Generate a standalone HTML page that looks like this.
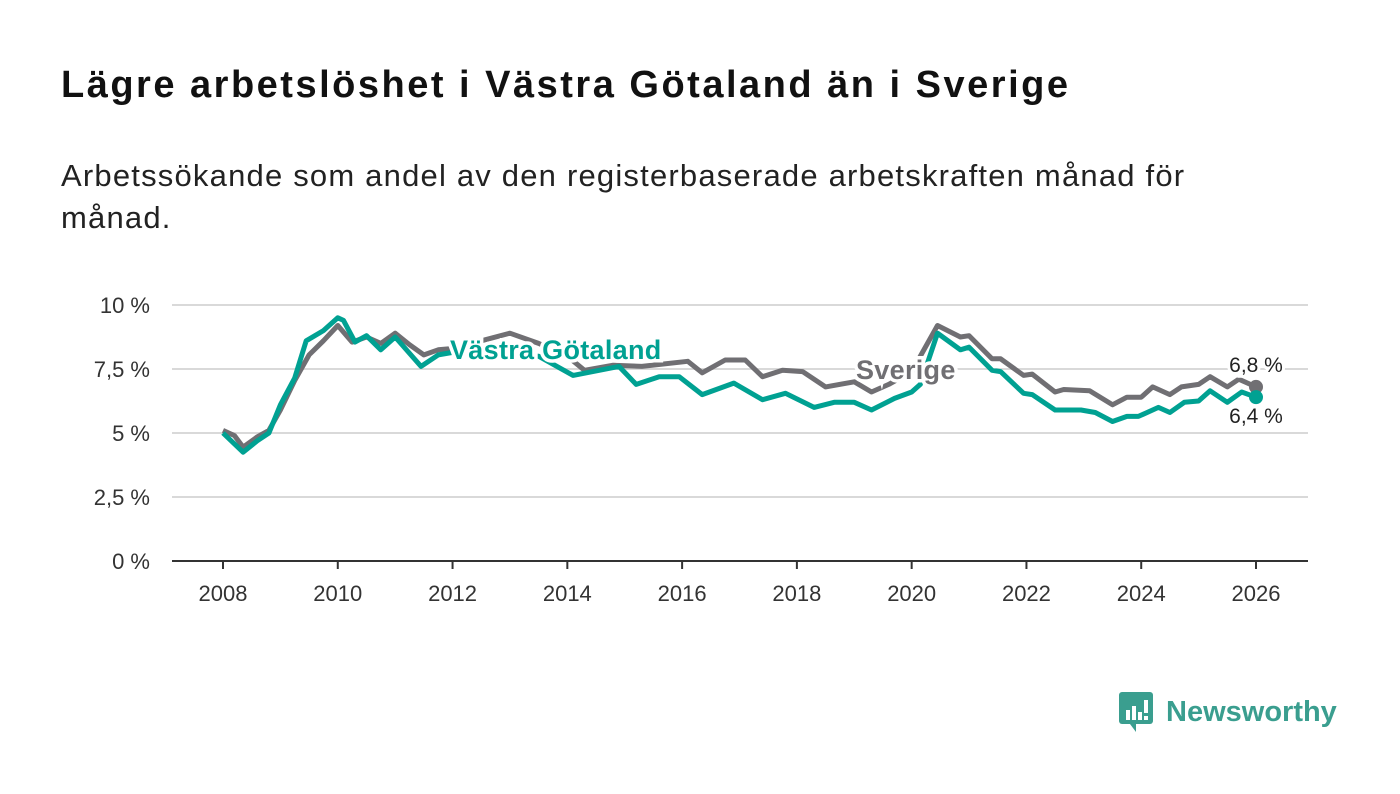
<!DOCTYPE html>
<html><head><meta charset="utf-8"><style>
body{margin:0;width:1400px;height:794px;background:#fff;font-family:"Liberation Sans",sans-serif;overflow:hidden}
h1{position:absolute;left:61px;top:64px;margin:0;font-size:38px;font-weight:bold;color:#111;letter-spacing:2.5px;white-space:nowrap}
p{position:absolute;left:61px;top:155px;margin:0;font-size:31px;line-height:42px;color:#222;width:1180px;letter-spacing:1.2px}
svg{position:absolute;left:0;top:0}
</style></head><body>
<h1>Lägre arbetslöshet i Västra Götaland än i Sverige</h1>
<p>Arbetssökande som andel av den registerbaserade arbetskraften månad för månad.</p>
<svg id="c" width="1400" height="794"></svg>
<script>
const yTicks=[0,2.5,5,7.5,10];
const yTickLabels=["0 %","2,5 %","5 %","7,5 %","10 %"];
const xTicks=[2008,2010,2012,2014,2016,2018,2020,2022,2024,2026];
const seDates=[2008,2008.2,2008.35,2008.6,2008.8,2009,2009.25,2009.5,2009.75,2010,2010.25,2010.5,2010.75,2011,2011.25,2011.5,2011.75,2012,2012.5,2013,2013.5,2014,2014.3,2014.8,2015.3,2016.1,2016.35,2016.75,2017.1,2017.4,2017.75,2018.1,2018.5,2019,2019.3,2019.6,2020,2020.45,2020.85,2021,2021.4,2021.55,2021.95,2022.1,2022.5,2022.65,2023.1,2023.5,2023.75,2024,2024.2,2024.5,2024.7,2025,2025.2,2025.5,2025.7,2026];
const seValues=[5.1,4.9,4.45,4.85,5.1,5.9,7.05,8.05,8.6,9.2,8.55,8.75,8.5,8.9,8.45,8.05,8.25,8.3,8.6,8.9,8.5,8.0,7.45,7.65,7.6,7.8,7.35,7.85,7.85,7.2,7.45,7.4,6.8,7.0,6.6,6.9,7.4,9.2,8.75,8.8,7.9,7.9,7.25,7.3,6.6,6.7,6.65,6.1,6.4,6.4,6.8,6.5,6.8,6.9,7.2,6.8,7.1,6.8];
const vgDates=[2008,2008.35,2008.6,2008.8,2009,2009.25,2009.45,2009.75,2010,2010.1,2010.3,2010.5,2010.75,2011,2011.45,2011.75,2012,2012.5,2013,2013.5,2014.1,2014.9,2015.2,2015.6,2015.95,2016.35,2016.9,2017.4,2017.8,2018.3,2018.65,2019,2019.3,2019.7,2020,2020.15,2020.45,2020.85,2021,2021.4,2021.55,2021.95,2022.1,2022.5,2022.95,2023.2,2023.5,2023.75,2023.95,2024.3,2024.5,2024.75,2025,2025.2,2025.5,2025.75,2026];
const vgValues=[5.0,4.25,4.7,5.0,6.1,7.15,8.6,9.0,9.5,9.4,8.55,8.8,8.25,8.75,7.6,8.05,8.15,8.2,8.1,8.0,7.25,7.6,6.9,7.2,7.2,6.5,6.95,6.3,6.55,6.0,6.2,6.2,5.9,6.35,6.6,6.9,8.9,8.25,8.35,7.45,7.4,6.55,6.5,5.9,5.9,5.8,5.45,5.65,5.65,6.0,5.8,6.2,6.25,6.65,6.2,6.6,6.4];
const X=y=>223+(y-2008)*(1033/18);
const Y=v=>561-v*25.6;
const NS="http://www.w3.org/2000/svg";
const svg=document.getElementById('c');
function mk(t,a,txt){const e=document.createElementNS(NS,t);for(const k in a)e.setAttribute(k,a[k]);if(txt!=null)e.textContent=txt;svg.appendChild(e);return e;}
yTicks.forEach((v,i)=>{
 if(v>0){const g=mk('line',{x1:172,x2:1308,y1:Y(v),y2:Y(v),stroke:'#d9d9d9','stroke-width':2});
 
 }
 const t=mk('text',{x:150,y:Y(v)+8,'text-anchor':'end','font-size':22,fill:'#333'},yTickLabels[i]);
 
 
});
const ax=mk('line',{x1:172,x2:1308,y1:561,y2:561,stroke:'#333','stroke-width':2});


xTicks.forEach(y=>{
 const l=mk('line',{x1:X(y),x2:X(y),y1:561,y2:569,stroke:'#333','stroke-width':2});
 
 
 const t=mk('text',{x:X(y),y:601,'text-anchor':'middle','font-size':22,fill:'#333'},String(y));
 
 
});
function path(d,v){return d.map((x,i)=>(i?'L':'M')+X(x).toFixed(1)+','+Y(v[i]).toFixed(1)).join(' ');}
const ps=mk('path',{d:path(seDates,seValues),fill:'none',stroke:'#706f73','stroke-width':5,'stroke-linejoin':'round'});


const pv=mk('path',{d:path(vgDates,vgValues),fill:'none',stroke:'#00a192','stroke-width':5,'stroke-linejoin':'round'});


const ds=mk('circle',{cx:X(seDates[seDates.length-1]),cy:Y(seValues[seValues.length-1]),r:7,fill:'#706f73'});


const dv=mk('circle',{cx:X(vgDates[vgDates.length-1]),cy:Y(vgValues[vgValues.length-1]),r:7,fill:'#00a192'});


function fmt(v){return v.toFixed(1).replace('.',',')+' %';}
const ls=mk('text',{x:1256,y:372,'text-anchor':'middle','font-size':21,fill:'#222',stroke:'#fff','stroke-width':6,'paint-order':'stroke'},fmt(seValues[seValues.length-1]));


const lv=mk('text',{x:1256,y:423,'text-anchor':'middle','font-size':21,fill:'#222',stroke:'#fff','stroke-width':6,'paint-order':'stroke'},fmt(vgValues[vgValues.length-1]));


const nv=mk('text',{x:450,y:359,'font-size':27,'font-weight':'bold',fill:'#00a192',stroke:'#fff','stroke-width':7,'paint-order':'stroke','letter-spacing':0.3},'Västra Götaland');


const ns=mk('text',{x:856,y:379,'font-size':27,'font-weight':'bold',fill:'#706f73',stroke:'#fff','stroke-width':7,'paint-order':'stroke','letter-spacing':0.3},'Sverige');


</script>
<div style="position:absolute;left:1118px;top:690px;height:44px;display:flex;align-items:center">
 <svg width="38" height="44" viewBox="0 0 38 44" style="position:static"><rect x="1" y="2" width="34" height="32" rx="3" fill="#3a9e8f"/><path d="M12 34 L18 42 L18 34Z" fill="#3a9e8f"/><rect x="8" y="20" width="4" height="10" fill="#fff"/><rect x="14" y="16" width="4" height="14" fill="#fff"/><rect x="20" y="22" width="4" height="8" fill="#fff"/><rect x="26" y="10" width="4" height="13" fill="#fff"/><rect x="26" y="26" width="4" height="4" fill="#fff"/></svg>
 <span style="font-size:29px;font-weight:bold;color:#3a9e8f;margin-left:10px">Newsworthy</span>
</div>
</body></html>
